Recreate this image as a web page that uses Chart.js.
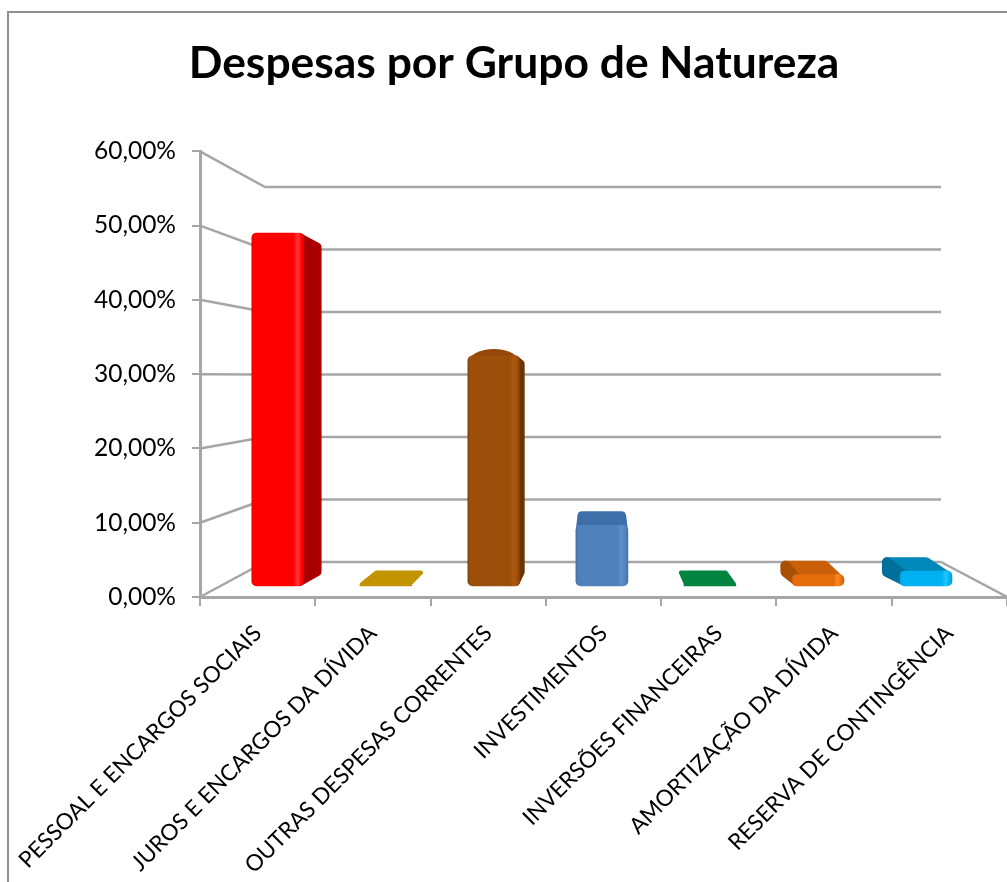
<!DOCTYPE html>
<html><head><meta charset="utf-8">
<style>html,body{margin:0;padding:0;background:#fff}#w{width:1007px;height:882px;position:relative}</style>
<script src="https://cdn.jsdelivr.net/npm/chart.js@4"></script>
</head><body><div id="w"><canvas id="c" width="1007" height="882"></canvas></div>
<script>
const titleText = 'Despesas por Grupo de Natureza';
const categories = ['PESSOAL E ENCARGOS SOCIAIS','JUROS E ENCARGOS DA DÍVIDA','OUTRAS DESPESAS CORRENTES','INVESTIMENTOS','INVERSÕES FINANCEIRAS','AMORTIZAÇÃO DA DÍVIDA','RESERVA DE CONTINGÊNCIA'];
const values = [50.0, 0.2, 32.6, 8.6, 0.2, 1.6, 2.1];
const faceColors = ['#ff0000','#c49400','#9c4f0a','#4f81bd','#00843f','#e46c0a','#00b0f0'];
const lightColors = ['#ff3a3a','#c49400','#ad5a10','#5f90cc','#00843f','#fb8a22','#22c4ff'];
const edgeColors = ['#f00000','#c49400','#7d3f08','#44709f','#00843f','#cf6109','#009fdb'];
const sideColors = ['#a80000','#c49400','#6b3303','#3a6594','#00843f','#a85006','#006f9c'];
const topColors = ['#ff0000','#c49400','#94490a','#3d6fa8','#00843f','#c95f08','#0088bb'];
const yTicks = [0,10,20,30,40,50,60];

const GRID = '#a6a6a6';
const FONT = 'Lato, Carlito, sans-serif';

const framePlugin = {
  id:'frame',
  beforeDraw(chart){
    const c = chart.ctx;
    c.save(); c.strokeStyle='#8f8f8f'; c.lineWidth=2;
    c.beginPath(); c.moveTo(8,882); c.lineTo(8,12); c.lineTo(1007,12); c.stroke();
    c.restore();
  }
};
const wallPlugin = {
  id:'walls',
  beforeDatasetsDraw(chart){
    const c = chart.ctx, y = chart.scales.y, a = chart.chartArea;
    const backL = a.left+65, backR = a.right-66, y0 = y.getPixelForValue(0);
    const backY = v => (y0-35) - (y0-35-187)*(v/60);
    c.save(); c.strokeStyle=GRID; c.lineWidth=2.5;
    yTicks.forEach(v=>{
      c.beginPath(); c.moveTo(a.left,y.getPixelForValue(v)); c.lineTo(backL,backY(v)); c.lineTo(backR,backY(v)); c.stroke();
    });
    c.beginPath(); c.moveTo(backR,backY(0)); c.lineTo(a.right,y0); c.stroke();
    c.restore();
  }
};
const VX = 600, KX = 0.06;
const depthY = t => t >= 527 ? -14 : (t >= 356 ? -14+(527-t)*0.041 : -7+(356-t)*0.136);
const backOf = (x,yy) => [x+(VX-x)*KX, yy+depthY(yy)];
const poly = (c,pts,col,lw) => {
  c.fillStyle=col; c.strokeStyle=col; c.lineWidth=lw; c.lineJoin='round';
  c.beginPath(); pts.forEach((p,i)=> i?c.lineTo(p[0],p[1]):c.moveTo(p[0],p[1])); c.closePath(); c.stroke(); c.fill();
};
const depthPlugin = {
  id:'depth',
  beforeDatasetsDraw(chart){
    const c = chart.ctx;
    c.save();
    chart.getDatasetMeta(0).data.forEach((el,i)=>{
      const l = el.x-el.width/2, r = el.x+el.width/2, t = el.y, b = el.base;
      const btl = backOf(l,t), btr = backOf(r,t), bbl = backOf(l,b), bbr = backOf(r,b);
      const dy = depthY(t);
      const flat = b-t <= 6;
      const R = flat ? 2 : (dy <= -10 ? 5 : 4);
      if (dy < 0 && dy > -10) {
        c.fillStyle = topColors[i];
        c.beginPath();
        c.ellipse((l+r)/2, t+6, el.width/2-1, 6-dy, 0, Math.PI, 2*Math.PI);
        c.closePath(); c.fill();
      } else if (dy <= -10) {
        const fy = Math.min(t+R, b-R);
        poly(c,[[l+R,fy],[r-R,fy],[btr[0]-R,btr[1]+R],[btl[0]+R,btl[1]+R]],topColors[i],2*R);
      }
      if (!flat) {
        if (r < VX) {
          const top = dy > 0 ? btr[1]+R : t+8;
          poly(c,[[r-R,t+R],[r-R,b-R],[bbr[0]-R,bbr[1]],[btr[0]-R,top]],sideColors[i],2*R);
        } else if (l > VX) {
          poly(c,[[l+R,t+R],[l+R,b-R],[bbl[0]+R,bbl[1]],[btl[0]+R,btl[1]+R]],sideColors[i],2*R);
        }
      }
    });
    c.restore();
  }
};

const bandFill = ctx => {
  const ch = ctx.chart, i = ctx.dataIndex;
  const s = ch.scales.xBar;
  if (!s || !ch.chartArea || i===undefined) return faceColors[i||0];
  const xc = s.getPixelForValue(i), w = 52;
  const g = ch.ctx.createLinearGradient(xc-w/2,0,xc+w/2,0);
  g.addColorStop(0, edgeColors[i]);
  g.addColorStop(0.04, faceColors[i]);
  g.addColorStop(0.8, faceColors[i]);
  g.addColorStop(0.88, lightColors[i]);
  g.addColorStop(0.96, faceColors[i]);
  g.addColorStop(1, edgeColors[i]);
  return g;
};

new Chart(document.getElementById('c'), {
  type:'bar',
  data:{
    labels:categories,
    datasets:[{
      data:values.map((v,i)=>({x:i,y:v})),
      xAxisID:'xBar', yAxisID:'yBar',
      backgroundColor:bandFill,
      borderRadius:5, borderSkipped:false,
      barThickness:52
    }]
  },
  options:{
    responsive:false, animation:false,
    layout:{padding:{left:21,right:0,top:0,bottom:0}},
    plugins:{
      legend:{display:false}, tooltip:{enabled:false},
      title:{display:true,text:titleText,color:'#000',font:{family:FONT,size:44.4,weight:'bold'},padding:{top:37,bottom:61}}
    },
    scales:{
      x:{type:'category',offset:true,
        grid:{display:true,drawOnChartArea:false,drawTicks:true,tickLength:9,color:GRID,lineWidth:2,offset:true},
        border:{display:true,color:GRID,width:3},
        ticks:{color:'#000',font:{family:FONT,size:22.5},minRotation:45,maxRotation:45,autoSkip:false,padding:14},
        afterFit(s){s.height=285;s.paddingLeft=0;s.paddingRight=0;}
      },
      y:{type:'linear',min:0,max:60,
        grid:{display:true,drawOnChartArea:false,drawTicks:true,tickLength:8,color:GRID,lineWidth:2},
        border:{display:true,color:GRID,width:3},
        afterBuildTicks(s){s.ticks=yTicks.map(v=>({value:v}));},
        ticks:{color:'#000',font:{family:FONT,size:24.5},padding:16,callback:v=>v.toFixed(2).replace('.',',')+'%'},
        afterFit(s){s.width=179;}
      },
      xBar:{type:'linear',display:false,offset:false,grid:{offset:false},min:-0.72,max:6.75},
      yBar:{type:'linear',display:false,min:-1.56,max:61.6}
    }
  },
  plugins:[framePlugin,wallPlugin,depthPlugin]
});
</script></body></html>
